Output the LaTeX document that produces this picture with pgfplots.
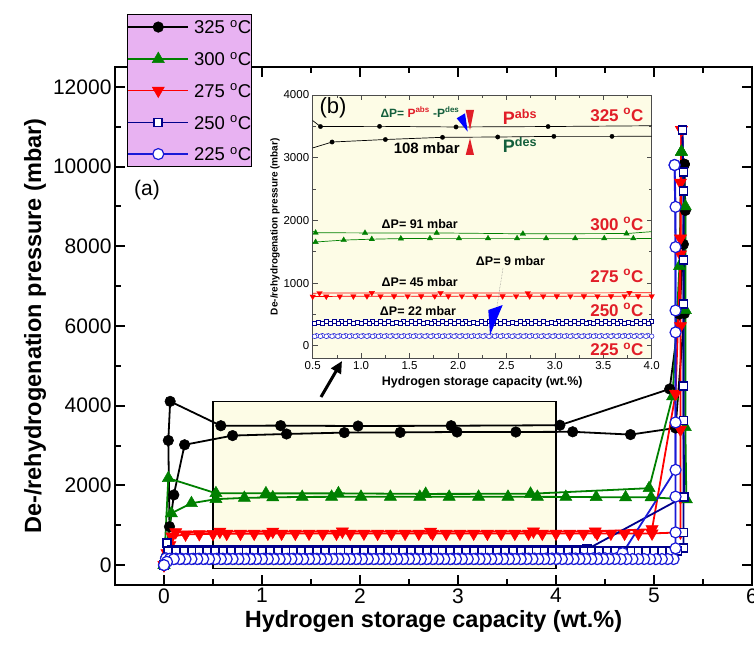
\documentclass[border=0pt]{standalone}
\usepackage{pgfplots}
\pgfplotsset{compat=1.18}
\usepackage{pgfplotstable}
\usepackage{fontspec}
\setmainfont{Liberation Sans}
\usetikzlibrary{arrows.meta}
\definecolor{ivory}{RGB}{253,252,230}
\definecolor{legpink}{RGB}{232,178,242}
\definecolor{cgreen}{RGB}{0,128,0}
\definecolor{cred}{RGB}{255,0,0}
\definecolor{cnavy}{RGB}{0,0,139}
\definecolor{cblue}{RGB}{25,25,215}
\definecolor{tred}{RGB}{225,30,40}
\definecolor{dkgreen}{RGB}{20,95,60}

% 325 C
\pgfplotstableread[row sep=\\]{
x y\\
0 0\\ 0.056 964\\ 0.044 3128\\ 0.063 4108\\ 0.58 3497\\ 1.19 3500\\ 1.98 3490\\ 2.93 3497\\ 4.04 3510\\ 5.16 4420\\ 5.26 6300\\ 5.30 8050\\ 5.31 10060\\
}\absA
\pgfplotstableread[row sep=\\]{
x y\\
5.31 10060\\ 5.32 8900\\ 5.31 6315\\ 5.22 3440\\ 4.76 3275\\ 4.17 3345\\ 3.59 3340\\ 2.99 3340\\ 2.41 3330\\ 1.84 3325\\ 1.25 3290\\ 0.70 3250\\ 0.21 3019\\ 0.10 1761\\ 0.02 200\\ 0 0\\
}\desA
% 300 C
\pgfplotstableread[row sep=\\]{
x y\\
0 0\\ 0.044 2180\\ 0.53 1803\\ 1.04 1800\\ 1.78 1800\\ 2.67 1786\\ 3.74 1790\\ 4.95 1930\\ 5.19 4234\\ 5.26 7500\\ 5.28 10370\\
}\absB
\pgfplotstableread[row sep=\\]{
x y\\
5.28 10370\\ 5.32 9000\\ 5.32 6400\\ 5.32 3460\\ 5.33 1650\\ 4.97 1700\\ 4.71 1700\\ 4.41 1705\\ 4.10 1710\\ 3.81 1713\\ 3.51 1713\\ 3.21 1713\\ 2.91 1713\\ 2.61 1713\\ 2.31 1713\\ 2.01 1713\\ 1.71 1713\\ 1.41 1710\\ 1.11 1700\\ 0.82 1686\\ 0.53 1655\\ 0.28 1552\\ 0.075 1300\\ 0 0\\
}\desB
% 275 C
\pgfplotstableread[row sep=\\]{
x y\\
0 0\\ 0.06 500\\ 0.12 830\\ 0.57 840\\ 1.11 842\\ 1.82 843\\ 2.72 840\\ 3.77 845\\ 4.40 845\\ 4.98 900\\ 5.22 4300\\ 5.27 7800\\ 5.28 10925\\
}\absC
\pgfplotstableread[row sep=\\]{
x y\\
5.28 10925\\ 5.27 9600\\ 5.27 8200\\ 5.27 6000\\ 5.27 3400\\ 5.27 1700\\ 5.27 820\\
4.98 795\\ 4.84 792\\ 4.70 790\\ 4.56 791\\ 4.42 790\\ 4.28 792\\ 4.14 790\\ 4.00 791\\ 3.86 790\\ 3.72 792\\ 3.58 790\\ 3.44 791\\ 3.30 790\\ 3.16 792\\ 3.02 790\\ 2.88 791\\ 2.74 790\\ 2.60 792\\ 2.46 790\\ 2.32 791\\ 2.18 790\\ 2.04 792\\ 1.90 790\\ 1.76 791\\ 1.62 790\\ 1.48 792\\ 1.34 790\\ 1.20 791\\ 1.06 790\\ 0.92 789\\ 0.78 788\\ 0.64 787\\ 0.50 785\\ 0.36 780\\ 0.22 770\\ 0.08 720\\ 0.03 300\\ 0 0\\
}\desC
% 250 C
\pgfplotstableread[row sep=\\]{
x y\\
0 0\\ 0.03 546\\
0.08 383\\ 0.16 384\\ 0.24 382\\ 0.32 383\\ 0.40 385\\ 0.48 383\\ 0.56 382\\ 0.64 384\\ 0.72 383\\ 0.80 385\\ 0.88 383\\ 0.96 382\\ 1.04 384\\ 1.12 383\\ 1.20 383\\ 1.28 384\\ 1.36 382\\ 1.44 383\\ 1.52 385\\ 1.60 383\\ 1.68 382\\ 1.76 384\\ 1.84 383\\ 1.92 383\\ 2.00 385\\ 2.08 383\\ 2.16 382\\ 2.24 384\\ 2.32 383\\ 2.40 384\\ 2.48 383\\ 2.56 382\\ 2.64 384\\ 2.72 383\\ 2.80 385\\ 2.88 383\\ 2.96 382\\ 3.04 384\\ 3.12 383\\ 3.20 384\\ 3.28 383\\ 3.36 382\\ 3.44 384\\ 3.52 383\\ 3.60 385\\ 3.68 383\\ 3.76 382\\ 3.84 384\\ 3.92 383\\ 4.00 384\\ 4.08 383\\ 4.16 385\\ 4.24 386\\ 4.32 400\\
5.31 1718\\ 5.30 3630\\ 5.30 6560\\ 5.30 9390\\ 5.29 10925\\
}\absD
\pgfplotstableread[row sep=\\]{
x y\\
5.29 10925\\ 5.30 9855\\ 5.30 7650\\ 5.30 4500\\ 5.30 820\\ 5.30 420\\
5.24 361\\ 5.16 361\\ 5.08 362\\ 5.00 361\\ 4.92 360\\ 4.84 361\\ 4.76 362\\ 4.68 361\\ 4.60 360\\ 4.52 361\\ 4.44 362\\ 4.36 361\\ 4.28 360\\ 4.20 361\\ 4.12 362\\ 4.04 361\\ 3.96 360\\ 3.88 361\\ 3.80 362\\ 3.72 361\\ 3.64 360\\ 3.56 361\\ 3.48 362\\ 3.40 361\\ 3.32 360\\ 3.24 361\\ 3.16 362\\ 3.08 361\\ 3.00 360\\ 2.92 361\\ 2.84 362\\ 2.76 361\\ 2.68 360\\ 2.60 361\\ 2.52 362\\ 2.44 361\\ 2.36 360\\ 2.28 361\\ 2.20 362\\ 2.12 361\\ 2.04 360\\ 1.96 361\\ 1.88 362\\ 1.80 361\\ 1.72 360\\ 1.64 361\\ 1.56 362\\ 1.48 361\\ 1.40 360\\ 1.32 361\\ 1.24 362\\ 1.16 361\\ 1.08 360\\ 1.00 361\\ 0.92 362\\ 0.84 361\\ 0.76 360\\ 0.68 361\\ 0.60 362\\ 0.52 361\\ 0.44 360\\ 0.36 361\\ 0.28 362\\ 0.20 361\\ 0.12 360\\ 0.04 340\\ 0 0\\
}\desD
% 225 C
\pgfplotstableread[row sep=\\]{
x y\\
0 0\\ 0.02 170\\
0.06 160\\ 0.12 161\\ 0.18 159\\ 0.24 160\\ 0.30 160\\ 0.36 161\\ 0.42 159\\ 0.48 160\\ 0.54 160\\ 0.60 161\\ 0.66 159\\ 0.72 160\\ 0.78 160\\ 0.84 161\\ 0.90 159\\ 0.96 160\\ 1.02 160\\ 1.08 161\\ 1.14 159\\ 1.20 160\\ 1.26 160\\ 1.32 161\\ 1.38 159\\ 1.44 160\\ 1.50 160\\ 1.56 161\\ 1.62 159\\ 1.68 160\\ 1.74 160\\ 1.80 161\\ 1.86 159\\ 1.92 160\\ 1.98 160\\ 2.04 161\\ 2.10 159\\ 2.16 160\\ 2.22 160\\ 2.28 161\\ 2.34 159\\ 2.40 160\\ 2.46 160\\ 2.52 161\\ 2.58 159\\ 2.64 160\\ 2.70 160\\ 2.76 161\\ 2.82 159\\ 2.88 160\\ 2.94 160\\ 3.00 161\\ 3.06 159\\ 3.12 160\\ 3.18 160\\ 3.24 161\\ 3.30 159\\ 3.36 160\\ 3.42 160\\ 3.48 161\\ 3.54 162\\ 3.60 162\\ 3.66 163\\ 3.72 163\\ 3.78 164\\ 3.84 164\\ 3.90 165\\ 3.96 165\\ 4.02 166\\ 4.08 166\\ 4.14 167\\ 4.20 167\\ 4.26 168\\ 4.32 168\\ 4.38 169\\ 4.44 170\\ 4.50 171\\ 4.56 172\\ 4.62 175\\
4.68 300\\ 5.22 2390\\ 5.22 3580\\ 5.22 5840\\ 5.22 7980\\ 5.21 10040\\
}\absE
\pgfplotstableread[row sep=\\]{
x y\\
5.21 10040\\ 5.22 8990\\ 5.22 6390\\ 5.22 1718\\ 5.22 820\\ 5.22 420\\ 5.20 151\\
5.14 151\\ 5.08 151\\ 5.02 150\\ 4.96 151\\ 4.90 152\\ 4.84 151\\ 4.78 151\\ 4.72 150\\ 4.66 151\\ 4.60 152\\ 4.54 151\\ 4.48 151\\ 4.42 150\\ 4.36 151\\ 4.30 152\\ 4.24 151\\ 4.18 151\\ 4.12 150\\ 4.06 151\\ 4.00 152\\ 3.94 151\\ 3.88 151\\ 3.82 150\\ 3.76 151\\ 3.70 152\\ 3.64 151\\ 3.58 151\\ 3.52 150\\ 3.46 151\\ 3.40 152\\ 3.34 151\\ 3.28 151\\ 3.22 150\\ 3.16 151\\ 3.10 152\\ 3.04 151\\ 2.98 151\\ 2.92 150\\ 2.86 151\\ 2.80 152\\ 2.74 151\\ 2.68 151\\ 2.62 150\\ 2.56 151\\ 2.50 152\\ 2.44 151\\ 2.38 151\\ 2.32 150\\ 2.26 151\\ 2.20 152\\ 2.14 151\\ 2.08 151\\ 2.02 150\\ 1.96 151\\ 1.90 152\\ 1.84 151\\ 1.78 151\\ 1.72 150\\ 1.66 151\\ 1.60 152\\ 1.54 151\\ 1.48 151\\ 1.42 150\\ 1.36 151\\ 1.30 152\\ 1.24 151\\ 1.18 151\\ 1.12 150\\ 1.06 151\\ 1.00 152\\ 0.94 151\\ 0.88 151\\ 0.82 150\\ 0.76 151\\ 0.70 152\\ 0.64 151\\ 0.58 151\\ 0.52 150\\ 0.46 151\\ 0.40 152\\ 0.34 151\\ 0.28 151\\ 0.22 150\\ 0.16 151\\ 0.10 150\\ 0.03 83\\ 0 0\\
}\desE

\pgfplotsset{
  s325/.style={black, line width=1.8pt, mark=*, mark size=5.3pt, mark options={solid, fill=black, line width=0.5pt}},
  s300/.style={cgreen, line width=1.8pt, mark=triangle*, mark size=7pt, mark options={solid, fill=cgreen, line width=0.5pt}},
  s275/.style={cred, line width=1.8pt, mark=triangle*, mark size=7pt, mark options={solid, rotate=180, fill=cred, line width=0.5pt}},
  s250/.style={cnavy, line width=1.8pt, mark=square*, mark size=4pt, mark options={solid, fill=white, line width=1.8pt}},
  s225/.style={cblue, line width=1.8pt, mark=*, mark size=5.5pt, mark options={solid, fill=white, line width=1.2pt}},
  i325/.style={black, line width=0.7pt, mark=*, mark size=2.2pt, mark options={solid, fill=black, line width=0.3pt}},
  i300/.style={cgreen, line width=0.7pt, mark=triangle*, mark size=3.2pt, mark options={solid, fill=cgreen, line width=0.3pt}},
  i275/.style={cred, line width=0.7pt, mark=triangle*, mark size=3.2pt, mark options={solid, rotate=180, fill=cred, line width=0.3pt}},
  i250/.style={cnavy, line width=0.7pt, mark=square*, mark size=2pt, mark options={solid, fill=white, line width=0.6pt}},
  i225/.style={cblue, line width=0.7pt, mark=*, mark size=2.3pt, mark options={solid, fill=white, line width=0.5pt}},
}

\begin{document}
\begin{tikzpicture}[x=1pt,y=1pt]
\useasboundingbox (0,0) rectangle (754,649);
\begin{axis}[
  at={(115pt,64pt)}, anchor=south west,
  width=637pt, height=518pt, scale only axis,
  xmin=-0.5, xmax=6, ymin=-500, ymax=12500,
  xtick={0,1,2,3,4,5,6}, minor x tick num=1,
  ytick={0,2000,4000,6000,8000,10000,12000}, minor y tick num=1,
  tick align=inside,
  axis line style={line width=2pt},
  every tick/.append style={line width=2pt, black},
  major tick length=10pt, minor tick length=6pt,
  tick label style={font=\fontsize{21}{24}\selectfont},
  /pgf/number format/assume math mode=true,
  /pgf/number format/1000 sep={},
  scaled y ticks=false,
  xlabel={Hydrogen storage capacity (wt.\%)},
  ylabel={De-/rehydrogenation pressure (mbar)},
  label style={font=\bfseries\fontsize{23.5}{27}\selectfont},
  legend style={at={(0.0188,1.102)}, anchor=north west, draw=black, line width=0.8pt,
    fill=legpink, font=\fontsize{18.5}{20}\selectfont, inner xsep=0pt, inner ysep=6pt,
    row sep=18.5pt, nodes={inner sep=0pt, text height=13pt, text depth=0pt},
    /tikz/every odd column/.append style={column sep=5pt}},
  legend image code/.code={\draw[mark repeat=2,mark phase=2] plot coordinates {(0pt,0pt) (30pt,0pt) (60pt,0pt)};},
  legend cell align=left,
  clip=false,
]
\filldraw[fill=ivory, draw=black, line width=1.2pt] (axis cs:0.5,-80) rectangle (axis cs:4.0,4100);
\addplot[s325] table {\absA}; \addlegendentry{325 \textsuperscript{o}C}
\addplot[s325, forget plot] table {\desA};
\addplot[s300] table {\absB}; \addlegendentry{300 \textsuperscript{o}C}
\addplot[s300, forget plot] table {\desB};
\addplot[s275] table {\absC}; \addlegendentry{275 \textsuperscript{o}C}
\addplot[s275, forget plot] table {\desC};
\addplot[s250] table {\absD}; \addlegendentry{250 \textsuperscript{o}C}
\addplot[s250, forget plot] table {\desD};
\addplot[s225] table {\absE}; \addlegendentry{225 \textsuperscript{o}C}
\addplot[s225, forget plot] table {\desE};
\end{axis}

\node[font=\fontsize{21}{24}\selectfont] at (147,459) {(a)};
\draw[line width=3pt, -{Triangle[length=12pt,width=11pt]}] (321,252) -- (342,288);

\begin{axis}[
  at={(312.7pt,290.7pt)}, anchor=south west,
  width=339pt, height=263.3pt, scale only axis,
  xmin=0.5, xmax=4, ymin=-200, ymax=4000,
  xtick={0.5,1,1.5,2,2.5,3,3.5,4}, minor x tick num=1,
  ytick={0,1000,2000,3000,4000}, minor y tick num=1,
  tick align=inside,
  axis background/.style={fill=ivory},
  axis line style={line width=0.9pt, black!70},
  every tick/.append style={line width=0.6pt, black!70},
  major tick length=5pt, minor tick length=3pt,
  tick label style={font=\fontsize{11.5}{13}\selectfont},
  /pgf/number format/assume math mode=true,
  /pgf/number format/1000 sep={},
  scaled y ticks=false,
  xticklabel style={/pgf/number format/.cd, fixed, fixed zerofill, precision=1},
  xlabel={Hydrogen storage capacity (wt.\%)},
  ylabel={De-/rehydrogenation pressure (mbar)},
  xlabel style={font=\bfseries\fontsize{12.5}{14}\selectfont},
  ylabel style={font=\bfseries\fontsize{10}{12}\selectfont, yshift=-3pt},
]
\addplot[i325] table {\absA};
\addplot[i325] table {\desA};
\addplot[i300] table {\absB};
\addplot[i300] table {\desB};
\addplot[i275] table {\absC};
\addplot[i275] table {\desC};
\addplot[i250] table {\absD};
\addplot[i250] table {\desD};
\addplot[i225] table {\absE};
\addplot[i225] table {\desE};
\end{axis}

% inset annotations
\node[font=\fontsize{22}{24}\selectfont] at (333,541) {(b)};
\node[font=\bfseries\fontsize{12}{14}\selectfont] at (420,537) {\textcolor{dkgreen}{ΔP= }\textcolor{tred}{P\textsuperscript{abs}} \textcolor{dkgreen}{-P\textsuperscript{des}}};
\fill[blue] (456.7,530.7) -- (465,535.7) -- (467.7,517.3) -- cycle;
\fill[tred] (465.7,539) -- (474,539) -- (470,519) -- cycle;
\fill[tred] (465.7,494) -- (474,494) -- (470,510.7) -- cycle;
\node[font=\bfseries\fontsize{18}{20}\selectfont, text=tred] at (520,532.3) {P\textsuperscript{abs}};
\node[font=\bfseries\fontsize{18}{20}\selectfont, text=dkgreen] at (520,504) {P\textsuperscript{des}};
\node[font=\bfseries\fontsize{15}{17}\selectfont] at (426.7,500.7) {108 mbar};
\node[font=\bfseries\fontsize{17}{19}\selectfont, text=tred, anchor=east] at (647,534) {325 \textsuperscript{o}C};
\node[font=\bfseries\fontsize{12.5}{14}\selectfont] at (419.7,425) {ΔP= 91 mbar};
\node[font=\bfseries\fontsize{17}{19}\selectfont, text=tred, anchor=east] at (647,425) {300 \textsuperscript{o}C};
\node[font=\bfseries\fontsize{12.5}{14}\selectfont] at (510.5,388) {ΔP= 9 mbar};
\node[font=\bfseries\fontsize{17}{19}\selectfont, text=tred, anchor=east] at (647,373) {275 \textsuperscript{o}C};
\node[font=\bfseries\fontsize{12.5}{14}\selectfont] at (419.7,366.7) {ΔP= 45 mbar};
\node[font=\bfseries\fontsize{17}{19}\selectfont, text=tred, anchor=east] at (647,339) {250 \textsuperscript{o}C};
\node[font=\bfseries\fontsize{12.5}{14}\selectfont] at (418,338.3) {ΔP= 22 mbar};
\node[font=\bfseries\fontsize{17}{19}\selectfont, text=tred, anchor=east] at (647,299.7) {225 \textsuperscript{o}C};
\draw[gray, line width=0.5pt, densely dotted] (503,381) -- (497,343);
\fill[blue] (488.3,339) -- (502.7,344) -- (490,314) -- cycle;
\end{tikzpicture}
\end{document}
